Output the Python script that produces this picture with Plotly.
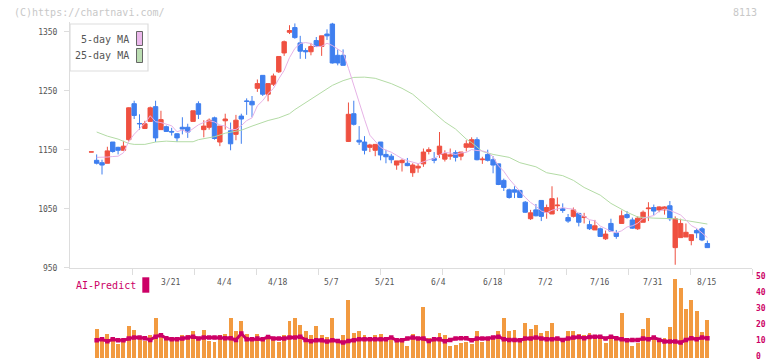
import plotly.graph_objects as go

# ---------------- data ----------------
opens = [1146, 1132, 1128, 1127, 1163, 1154, 1149, 1167, 1228, 1194.5, 1186, 1198, 1223, 1184, 1189, 1181,
         1177, 1188, 1188, 1198, 1228, 1184, 1188, 1204, 1163, 1199, 1182, 1176, 1207, 1232.5, 1232, 1254,
         1276, 1244, 1261, 1282, 1314, 1349, 1357, 1331, 1318, 1316, 1335, 1325, 1346, 1363, 1310, 1310,
         1164, 1211, 1166, 1163, 1154, 1149, 1163, 1142, 1139, 1124, 1128, 1127, 1111, 1119, 1126, 1147,
         1135, 1142, 1134, 1139, 1145, 1139, 1154, 1154, 1167, 1133, 1142, 1133, 1126, 1098, 1082, 1082,
         1081, 1061, 1033, 1048, 1064, 1044, 1041, 1055, 1050, 1035, 1037, 1042, 1035, 1023, 1014, 1016,
         999, 1025, 1009, 1025, 1040, 1031, 1016, 1027, 1050, 1052, 1048, 1048, 1055, 984, 1001, 1002,
         996, 1013, 1016, 991]
highs = [1146.3, 1142, 1133, 1155, 1163, 1155, 1165, 1222, 1233, 1210, 1199, 1223, 1233, 1216, 1191, 1187,
         1178, 1205, 1194, 1216, 1232, 1200, 1203, 1206, 1190, 1211, 1196, 1209, 1211, 1237, 1241, 1269,
         1276, 1262, 1279, 1308, 1335, 1361, 1364, 1343, 1322, 1331, 1341, 1343, 1354, 1365, 1320, 1320,
         1230, 1233, 1190, 1173, 1160, 1159, 1163, 1150, 1143, 1131, 1134, 1136, 1127, 1126, 1152, 1154,
         1146, 1180, 1149, 1152, 1149, 1146, 1166, 1171, 1171, 1138, 1150, 1139, 1126, 1101, 1084, 1088,
         1081, 1063, 1048, 1058, 1064, 1057, 1088, 1069, 1059, 1041, 1052, 1043, 1043, 1030, 1031, 1018,
         1013, 1033, 1014, 1047, 1046, 1035, 1037, 1047, 1061, 1057, 1054, 1054, 1063, 1037, 1033, 1025,
         1006, 1016, 1019, 996]
lows = [1146, 1125, 1108, 1127, 1145, 1142, 1149, 1164, 1202, 1184, 1185, 1197, 1163, 1184, 1180, 1174,
        1163, 1176, 1170, 1198, 1202, 1171, 1184, 1167, 1156, 1184, 1149, 1166, 1160, 1209, 1205, 1248,
        1241, 1232, 1258, 1280, 1309, 1346, 1338, 1304, 1304, 1310, 1325, 1309, 1336, 1296, 1293, 1293,
        1163, 1191, 1158, 1142, 1146, 1139, 1132, 1127, 1127, 1116, 1113, 1122, 1104, 1111, 1121, 1142,
        1127, 1136, 1130, 1133, 1130, 1132, 1147, 1154, 1132, 1126, 1130, 1110, 1090, 1080, 1067, 1068,
        1068, 1043, 1031, 1037, 1029, 1033, 1041, 1046, 1043, 1026, 1035, 1020, 1025, 1014, 1014, 1003,
        997, 1012, 999, 1025, 1033, 1016, 1014, 1027, 1029, 1039, 1044, 1040, 1029, 955, 1001, 1002,
        988, 1000, 995, 984]
closes = [1146.3, 1127, 1124, 1148, 1147, 1149, 1156, 1221, 1208, 1194, 1194, 1221, 1170, 1201, 1181, 1180,
          1170, 1185, 1180, 1216, 1210, 1190, 1200, 1169, 1190, 1202, 1160, 1200, 1202, 1232, 1226, 1262,
          1244, 1262, 1275, 1308, 1333, 1352, 1340, 1317, 1316, 1325, 1325, 1343, 1343, 1297, 1297, 1293,
          1210, 1193, 1163, 1149, 1158, 1159, 1141, 1138, 1133, 1131, 1132, 1123, 1124, 1122, 1146, 1150,
          1132, 1156, 1143, 1141, 1137, 1146, 1160, 1167, 1133, 1134, 1132, 1124, 1091, 1086, 1069, 1078,
          1069, 1044, 1043, 1038, 1037, 1052, 1067, 1056, 1047, 1029, 1048, 1027, 1036, 1016, 1021, 1003,
          1007, 1012, 1003, 1038, 1035, 1017, 1034, 1044, 1051, 1046, 1053, 1053, 1033, 1033, 1025, 1010,
          1006, 1009, 997, 984]

ma5_idx = list(range(1, 116))
ma5_val = [1137, 1137, 1137.5, 1138.4, 1139.0, 1144.8, 1164.2, 1176.2, 1185.6, 1194.6, 1207.6, 1197.4,
           1196.0, 1193.4, 1190.6, 1180.4, 1183.4, 1179.2, 1186.2, 1192.2, 1196.2, 1199.2, 1197.0, 1191.8,
           1190.2, 1184.2, 1184.2, 1190.8, 1199.2, 1204.0, 1224.4, 1233.2, 1245.2, 1253.8, 1270.2, 1284.4,
           1306.0, 1321.6, 1330.0, 1331.6, 1330.0, 1324.6, 1325.2, 1330.4, 1326.6, 1321.0, 1314.6, 1288.0,
           1258.0, 1231.2, 1201.6, 1174.6, 1164.4, 1154.0, 1149.0, 1145.8, 1140.4, 1135.0, 1131.4, 1128.6,
           1126.4, 1129.4, 1133.0, 1134.8, 1141.2, 1145.4, 1144.4, 1141.8, 1144.6, 1145.4, 1150.2, 1148.6,
           1148.0, 1145.2, 1138.0, 1122.8, 1113.4, 1100.4, 1089.6, 1078.6, 1069.2, 1060.6, 1054.4, 1046.2,
           1042.8, 1047.4, 1050.0, 1051.8, 1050.2, 1049.4, 1041.4, 1037.4, 1031.2, 1029.6, 1020.6, 1016.6,
           1011.8, 1009.2, 1012.6, 1019.0, 1021.0, 1025.4, 1033.6, 1036.2, 1038.4, 1045.6, 1049.4, 1047.2,
           1043.6, 1039.4, 1030.8, 1021.4, 1016.6, 1009.4, 1001.2]

ma25_idx = [1, 3, 5, 7, 8, 10, 12, 14, 16, 19, 20, 23, 25, 28, 30, 33, 35, 37, 38, 40, 42, 45, 47, 49,
            51, 53, 56, 58, 60, 62, 64, 66, 68, 70, 71, 73, 75, 78, 80, 83, 85, 88, 90, 92, 95, 97, 100,
            102, 105, 107, 109, 111, 114, 115]
ma25_val = [1180, 1173, 1168, 1160.5, 1159, 1159, 1163, 1164.5, 1163.5, 1163.5, 1167, 1172, 1178, 1183,
            1190, 1199.5, 1204, 1211, 1218, 1230, 1242, 1259, 1267, 1272.5, 1273, 1271, 1262, 1254, 1244,
            1228, 1212, 1197, 1185, 1168, 1162, 1147, 1142, 1137, 1128, 1121, 1111, 1106, 1098, 1086, 1073,
            1059, 1044, 1036, 1034, 1034, 1033, 1030, 1026, 1024]

ai_bars = [None, 18.5, 12.7, 15.4, 11.3, 9.2, 10.0, 20.4, 17.9, 12.7, 10.6,
           14.8, 24.8, 15.4, 12.1, 12.7, 11.3, 14.8, 14.8, 16.7, 12.1,
           17.9, 11.0, 10.4, 14.2, 15.4, 24.8, 17.3, 23.5, 15.4, 13.5,
           15.4, 13.5, 12.7, 13.5, 10.4, 14.8, 23.5, 24.8, 21.0, 16.7,
           14.2, 20.4, 14.2, 13.5, 24.8, 12.3, 14.2, 36.0, 16.0, 16.7,
           14.2, 11.7, 14.2, 15.4, 11.7, 11.7, 11.7, 12.3, 7.9, 15.4,
           12.3, 31.7, 12.9, 12.9, 16.0, 14.8, 7.9, 8.5, 9.8, 10.4,
           9.2, 17.3, 10.4, 11.7, 12.9, 16.7, 24.8, 16.7, 17.9, 11.7,
           21.7, 18.5, 21.0, 16.0, 17.3, 21.7, 13.5, 11.7, 16.7, 16.7,
           15.4, 14.8, 16.0, 13.5, 12.9, 9.8, 13.5, 13.5, 27.9, 11.7,
           7.9, 9.8, 18.5, 25.4, 12.9, 11.0, 12.9, 19.8, 49.2, 43.7,
           30.7, 36.3, 29.5, 16.5, 23.8]
ai_line = [None, 11.0, 11.7, 10.4, 11.7, 11.0, 11.0, 12.1, 12.7, 12.7, 12.3,
           11.25, 13.3, 14.2, 12.3, 11.7, 11.7, 12.1, 12.7, 13.3, 12.1,
           12.7, 12.7, 12.7, 12.7, 12.3, 12.3, 11.25, 15.2, 11.7, 11.7,
           12.1, 11.7, 13.1, 12.1, 12.1, 12.1, 12.7, 12.7, 13.3, 11.25,
           10.4, 11.0, 11.0, 10.2, 11.0, 10.6, 9.6, 10.6, 11.0, 11.7,
           11.7, 11.7, 11.7, 11.7, 11.7, 12.7, 11.0, 11.0, 12.1, 12.7,
           12.1, 12.1, 10.6, 11.7, 11.7, 10.4, 11.25, 12.1, 12.3, 12.3,
           11.0, 12.1, 12.1, 12.1, 12.7, 13.3, 11.7, 11.25, 11.25, 11.0,
           12.1, 12.1, 12.7, 12.1, 11.7, 11.7, 12.1, 11.25, 12.1, 12.7,
           13.1, 12.3, 13.1, 13.3, 13.3, 12.1, 13.3, 12.3, 11.7, 11.0,
           11.25, 11.25, 12.1, 11.7, 12.7, 11.25, 10.2, 10.2, 10.2, 9.6,
           11.25, 12.3, 11.7, 12.7, 12.3]

date_labels = ["3/21", "4/4", "4/18", "5/7", "5/21", "6/4", "6/18", "7/2", "7/16", "7/31", "8/15"]
date_label_idx = [15, 25, 35, 45, 55, 65, 75, 85, 95, 105, 115]

price_ticks = [950, 1050, 1150, 1250, 1350]
ai_ticks = [0, 10, 20, 30, 40, 50]

# ---------------- geometry / styles ----------------
W, H = 772, 361
ML, MR, MT, MB = 70, 20, 22, 3
PW, PH = W - ML - MR, H - MT - MB


def pxx(px):
    return (px - ML) / PW


def pxy(py):
    return (H - MB - py) / PH


first_px, step_px = 91.3, 5.357
x_range = [(ML - first_px) / step_px, (W - MR - first_px) / step_px]
n_div = 11
x_ticks = [x_range[0] + k * (x_range[1] - x_range[0]) / n_div for k in range(1, n_div + 1)]

y_bottom_px, y_scale = 267.7, 0.59
y_range = [950, 950 + (y_bottom_px - MT) / y_scale]

RED, BLUE = "#EF5040", "#3F7FEF"
PINK, GREEN = "#E6B2E6", "#B3DBA5"
ORANGE, CRIMSON = "#F29A40", "#CC0066"
MONO = "DejaVu Sans Mono"
AXC = "#DDDDDD"

x = list(range(len(opens)))

fig = go.Figure()
fig.add_trace(go.Scatter(x=ma25_idx, y=ma25_val, mode="lines", line=dict(color=GREEN, width=1),
                         xaxis="x", yaxis="y", hoverinfo="skip"))
fig.add_trace(go.Scatter(x=ma5_idx, y=ma5_val, mode="lines", line=dict(color=PINK, width=1),
                         xaxis="x", yaxis="y", hoverinfo="skip"))
fig.add_trace(go.Candlestick(x=x, open=opens, high=highs, low=lows, close=closes,
                             increasing=dict(line=dict(color=RED, width=1), fillcolor=RED),
                             decreasing=dict(line=dict(color=BLUE, width=1), fillcolor=BLUE),
                             whiskerwidth=0, xaxis="x", yaxis="y"))
fig.add_trace(go.Bar(x=x, y=ai_bars, marker=dict(color=ORANGE, line=dict(width=0)), width=0.74,
                     xaxis="x2", yaxis="y2"))
fig.add_trace(go.Scatter(x=x, y=ai_line, mode="lines+markers", line=dict(color=CRIMSON, width=3),
                         marker=dict(symbol="square", size=4.5, color=CRIMSON),
                         xaxis="x2", yaxis="y2"))

shapes = [
    dict(type="rect", xref="paper", yref="paper", x0=pxx(70), x1=pxx(148), y0=pxy(24), y1=pxy(71),
         fillcolor="white", line=dict(color=AXC, width=1.2), layer="above"),
    dict(type="rect", xref="paper", yref="paper", x0=pxx(136.5), x1=pxx(142.5), y0=pxy(31.5), y1=pxy(45.5),
         fillcolor="#EBB8EB", line=dict(color="#666666", width=1), layer="above"),
    dict(type="rect", xref="paper", yref="paper", x0=pxx(136.5), x1=pxx(142.5), y0=pxy(48.5), y1=pxy(62.5),
         fillcolor="#BBDDB2", line=dict(color="#666666", width=1), layer="above"),
    dict(type="rect", xref="paper", yref="paper", x0=pxx(142.3), x1=pxx(149.3), y0=pxy(277.3), y1=pxy(292.7),
         fillcolor=CRIMSON, line=dict(width=0), layer="above"),
]

annotations = [
    dict(text="5-day MA", xref="paper", yref="paper", x=pxx(131), y=pxy(39.5), xanchor="right",
         yanchor="middle", showarrow=False, font=dict(family=MONO, size=10, color="#555555")),
    dict(text="25-day MA", xref="paper", yref="paper", x=pxx(131), y=pxy(56), xanchor="right",
         yanchor="middle", showarrow=False, font=dict(family=MONO, size=10, color="#555555")),
    dict(text="(C)https://chartnavi.com/", xref="paper", yref="paper", x=pxx(12), y=pxy(12.5),
         xanchor="left", yanchor="middle", showarrow=False, font=dict(family=MONO, size=10, color="#C8C8C8")),
    dict(text="8113", xref="paper", yref="paper", x=pxx(759), y=pxy(12.5), xanchor="right",
         yanchor="middle", showarrow=False, font=dict(family=MONO, size=10, color="#C8C8C8")),
    dict(text="AI-Predict", xref="paper", yref="paper", x=pxx(74), y=pxy(285.5), xanchor="left",
         yanchor="middle", showarrow=False, font=dict(family=MONO, size=10, color=CRIMSON)),
]
for lab, idx in zip(date_labels, date_label_idx):
    annotations.append(dict(text=lab, xref="x", yref="paper", x=idx - 0.2, y=pxy(282.5), xanchor="center",
                            yanchor="middle", showarrow=False,
                            font=dict(family=MONO, size=8, color="#555555")))

fig.update_layout(
    width=W, height=H, autosize=False,
    margin=dict(l=ML, r=MR, t=MT, b=MB, pad=0, autoexpand=False),
    paper_bgcolor="white", plot_bgcolor="white",
    showlegend=False, boxgap=0.18, boxgroupgap=0, bargap=0,
    xaxis=dict(domain=[0, 1], range=x_range, anchor="y", showline=True, linecolor=AXC, linewidth=1,
               ticks="outside", ticklen=6, tickcolor=AXC, tickwidth=1, tickvals=x_ticks,
               showticklabels=False, showgrid=False, zeroline=False, rangeslider=dict(visible=False),
               fixedrange=True, automargin=False),
    yaxis=dict(domain=[pxy(y_bottom_px), 1], range=y_range, anchor="x", showline=True, linecolor=AXC,
               linewidth=1, ticks="outside", ticklen=5, tickcolor=AXC, tickvals=price_ticks,
               ticktext=[str(v) for v in price_ticks], ticklabelstandoff=5, ticklabeloverflow="allow",
               tickfont=dict(family=MONO, size=8, color="#555555"), showgrid=False, zeroline=False,
               fixedrange=True, automargin=False),
    xaxis2=dict(domain=[0, 1], range=x_range, anchor="y2", visible=False, fixedrange=True, automargin=False),
    yaxis2=dict(domain=[0, pxy(277.7)], range=[0, 50], anchor="x2", side="right", tickvals=ai_ticks,
                ticks="", showline=False, showgrid=False, zeroline=False, ticklabelstandoff=3,
                ticklabeloverflow="allow", ticklabelshift=-2,
                tickfont=dict(family=MONO, size=8, color=CRIMSON, weight="bold"), fixedrange=True,
                automargin=False),
    shapes=shapes, annotations=annotations,
)

fig.write_html("out.html", config={"displayModeBar": False},
               post_script="document.body.style.margin='0';")
